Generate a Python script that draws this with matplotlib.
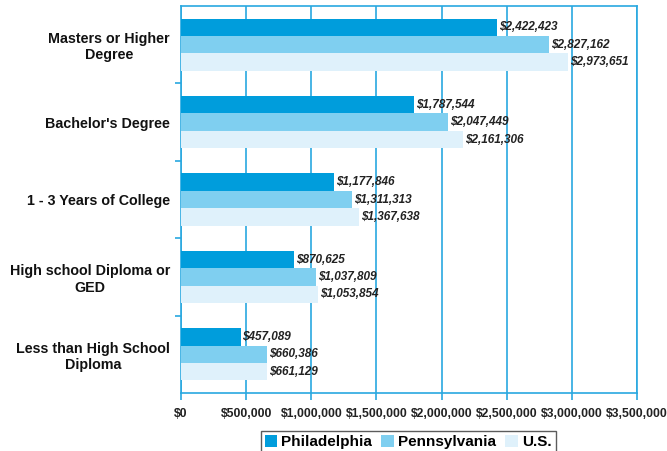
import numpy as np
import matplotlib
matplotlib.use('Agg')
import matplotlib.pyplot as plt

plt.rcParams['font.family'] = ['Liberation Sans', 'DejaVu Sans']

categories = ['Masters or Higher\nDegree', "Bachelor's Degree", '1 - 3 Years of College',
              'High school Diploma or\nGED', 'Less than High School\nDiploma']
philadelphia = [2422423, 1787544, 1177846, 870625, 457089]
pennsylvania = [2827162, 2047449, 1311313, 1037809, 660386]
us = [2973651, 2161306, 1367638, 1053854, 661129]
series_names = ['Philadelphia', 'Pennsylvania', 'U.S.']
xticks = [0, 500000, 1000000, 1500000, 2000000, 2500000, 3000000, 3500000]
xticklabels = ['$0', '$500,000', '$1,000,000', '$1,500,000', '$2,000,000',
               '$2,500,000', '$3,000,000', '$3,500,000']

colors = ['#009ddc', '#7fcff0', '#dff1fb']
blue = '#29a8e0'

fig = plt.figure(figsize=(6.67, 4.51), dpi=100)
ax = fig.add_axes([0.2714, 0.1286, 0.6837, 0.858])

y = np.arange(len(categories))
h = 0.225
for i, (vals, name) in enumerate(zip([philadelphia, pennsylvania, us], series_names)):
    pos = y + (i - 1) * h
    ax.barh(pos, vals, height=h, color=colors[i], label=name, zorder=3)
    for p, v in zip(pos, vals):
        ax.text(v + 15000, p, '${:,}'.format(v), va='center', ha='left',
                fontsize=8.5, fontweight='bold', fontstyle='italic', color='#222222', zorder=4)

ax.set_xlim(0, 3500000)
ax.set_ylim(len(categories) - 0.5, -0.5)
ax.set_xticks(xticks)
ax.set_xticklabels(xticklabels, fontsize=8.8, fontweight='bold', color='#222222')
ax.set_yticks(y)
ax.set_yticklabels(categories, fontsize=10.3, fontweight='bold', ha='right',
                   multialignment='center', color='#111111')
ax.tick_params(axis='y', length=0, pad=8)
ax.set_yticks(np.arange(0.5, len(categories) - 0.5, 1), minor=True)
ax.tick_params(axis='y', which='minor', length=4, color=blue, width=1.2)
ax.tick_params(axis='x', length=5, color=blue, width=1.2, pad=6)
ax.grid(axis='x', color=blue, linewidth=1.2, zorder=1)
for s in ax.spines.values():
    s.set_color(blue)
    s.set_linewidth(1.2)

leg = fig.legend(loc='upper center', bbox_to_anchor=(0.612, 0.044), ncol=3,
                 prop={'weight': 'bold', 'size': 11}, frameon=True, fancybox=False,
                 edgecolor='#333333', handlelength=0.8, handleheight=0.8,
                 handletextpad=0.3, columnspacing=0.6, borderpad=0.25, borderaxespad=0)
leg.get_frame().set_linewidth(1.0)

fig.savefig('out.png', dpi=100)
